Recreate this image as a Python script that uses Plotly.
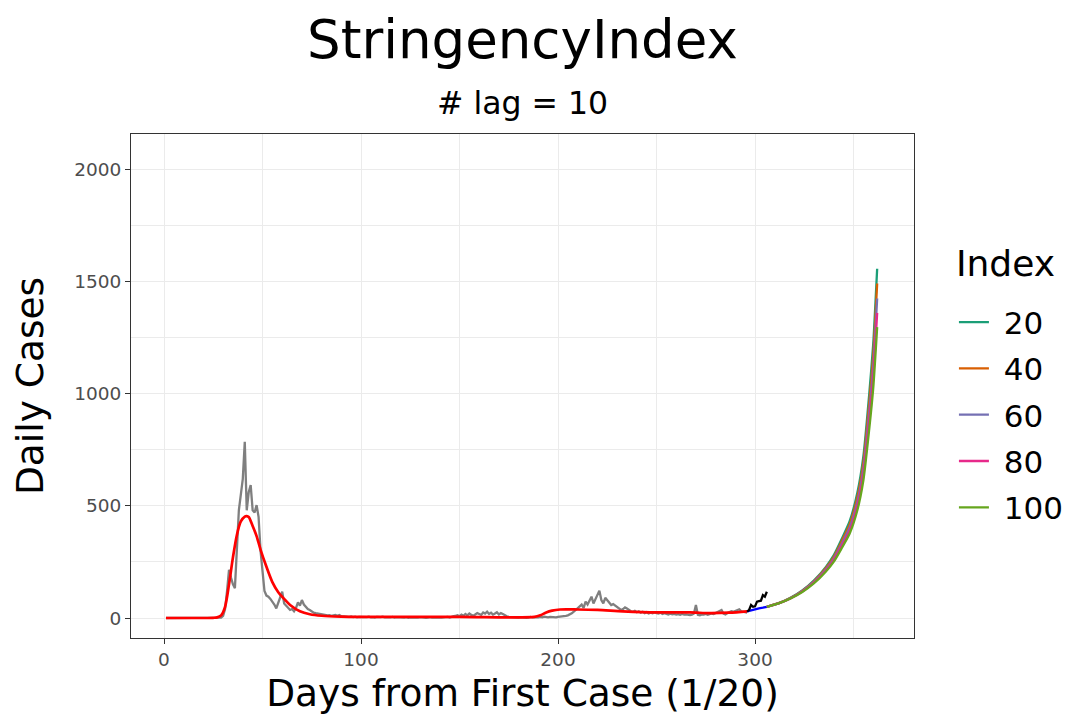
import plotly.graph_objects as go

# ---- observed daily cases (grey), day 1..296 ----
obs_days = list(range(1, 297))
obs_cases = (
    [0] * 28 + [2, 10] +
    [40, 120, 215, 180, 150, 133, 300, 480, 550, 620] +
    [785, 480, 560, 592, 480, 470, 503, 451, 300, 200] +
    [120, 100, 95, 85, 75, 60, 43, 65, 90, 117] +
    [65, 55, 45, 36, 40, 30, 45, 70, 55, 80] +
    [60, 50, 40, 36, 28, 24, 22, 20, 20, 18] +
    [15, 14, 12, 13, 10, 12, 14, 10, 13, 8] +
    [7, 9, 6, 5, 7, 4, 6, 3, 5, 4] +
    [3, 5, 4, 6, 3, 4, 2, 5, 3, 4] +
    [6, 3, 4, 2, 3, 5, 2, 4, 3, 2] +
    [3, 2, 4, 1, 3, 2, 1, 3, 2, 4] +
    [2, 3, 1, 2, 4, 2, 3, 1, 2, 3] +
    [2, 4, 3, 5, 2, 6, 8, 10, 12, 8] +
    [15, 10, 18, 12, 20, 14, 10, 16, 22, 18] +
    [14, 25, 20, 28, 18, 24, 15, 20, 26, 16] +
    [22, 18, 12, 8, 5, 4, 3, 2, 3, 2] +
    [4, 2, 3, 1, 2, 5, 3, 2, 4, 3] +
    [5, 3, 6, 4, 3, 5, 4, 6, 3, 5] +
    [6, 5, 8, 10, 12, 15, 21, 28, 35, 42] +
    [50, 60, 45, 73, 60, 80, 95, 65, 85, 100] +
    [122, 80, 65, 90, 80, 70, 58, 62, 55, 50] +
    [45, 36, 40, 47, 42, 36, 30, 28, 32, 26] +
    [30, 24, 28, 22, 26, 20, 24, 21, 25, 22] +
    [20, 24, 18, 22, 20, 16, 19, 16, 18, 15] +
    [17, 14, 18, 15, 16, 14, 13, 15, 20, 58] +
    [14, 12, 16, 15, 18, 14, 16, 20, 18, 22] +
    [25, 30, 36, 20, 16, 22, 25, 30, 28, 32] +
    [35, 39, 30, 28, 26, 24]
)

# ---- fitted curve (red) ----
fit_days = [1, 20, 25, 27, 29, 31, 33, 35, 37, 39, 41, 42, 43, 45, 47, 49, 52, 55,
            58, 61, 64, 69, 74, 80, 90, 100, 150, 188, 191, 194, 197, 201, 210,
            220, 233, 250, 267, 277, 287, 296]
fit_cases = [0, 0, 1, 3, 12, 50, 150, 270, 370, 430, 452, 454, 450, 410, 365, 305, 228, 160,
             115, 85, 58, 30, 17, 10, 6, 5, 5, 5, 12, 25, 33, 38, 38,
             36, 30, 25, 25, 22, 24, 30]

# ---- recent observed (black) and recent fit (blue) ----
recent_days = [296, 297, 298, 299, 300, 301, 302, 303, 304, 305, 306]
recent_cases = [28, 36, 58, 50, 52, 73, 75, 77, 102, 95, 117]
blue_days = [296, 298, 300, 302, 304, 306]
blue_cases = [30, 35, 39, 43, 46, 50]

# ---- projections by stringency index ----
proj_days = [306, 312, 318, 324, 330, 336, 340, 344, 348, 352, 355, 358, 360, 362]
index_labels = ["20", "40", "60", "80", "100"]
proj_20 = [50, 66, 90, 123, 168, 228, 280, 352, 430, 560, 720, 1000, 1220, 1556]
proj_40 = [50, 66, 89, 121, 165, 223, 273, 342, 416, 540, 693, 961, 1170, 1490]
proj_60 = [50, 65, 88, 120, 162, 217, 265, 331, 402, 520, 666, 921, 1120, 1423]
proj_80 = [50, 65, 87, 118, 159, 212, 258, 321, 388, 501, 639, 882, 1070, 1359]
proj_100 = [50, 65, 87, 116, 155, 207, 251, 311, 375, 482, 613, 844, 1024, 1296]
proj_series = [proj_20, proj_40, proj_60, proj_80, proj_100]
proj_colors = ["#1B9E77", "#D95F02", "#7570B3", "#E7298A", "#66A61E"]

x_ticks = [0, 100, 200, 300]
y_ticks = [0, 500, 1000, 1500, 2000]

FONT = "DejaVu Sans"

fig = go.Figure()
fig.add_trace(go.Scatter(x=obs_days, y=obs_cases, mode="lines",
                         line=dict(color="#7F7F7F", width=2.3), showlegend=False,
                         hoverinfo="skip"))
fig.add_trace(go.Scatter(x=fit_days, y=fit_cases, mode="lines",
                         line=dict(color="#FF0000", width=2.7, shape="spline", smoothing=0.8),
                         showlegend=False, hoverinfo="skip"))
fig.add_trace(go.Scatter(x=blue_days, y=blue_cases, mode="lines",
                         line=dict(color="#0000FF", width=2.3), showlegend=False,
                         hoverinfo="skip"))
fig.add_trace(go.Scatter(x=recent_days, y=recent_cases, mode="lines",
                         line=dict(color="#000000", width=2.3), showlegend=False,
                         hoverinfo="skip"))
for i, (lab, ys, col) in enumerate(zip(index_labels, proj_series, proj_colors)):
    extra = {}
    if i == 0:
        extra["legendgrouptitle"] = dict(text=".", font=dict(size=13, color="rgba(0,0,0,0)"))
    fig.add_trace(go.Scatter(x=proj_days, y=ys, mode="lines",
                             name="\u00a0" + lab,
                             legendgroup=lab,
                             line=dict(color=col, width=2.3, shape="spline", smoothing=0.6),
                             **extra))

axis_common = dict(
    showline=True, linecolor="#333333", linewidth=1, mirror=True,
    ticks="outside", ticklen=5, tickcolor="#333333", tickwidth=1,
    tickfont=dict(family=FONT, size=18.5, color="#4D4D4D"),
    showgrid=True, gridcolor="#EBEBEB", gridwidth=1.3,
    zeroline=False, automargin=False,
)

fig.update_layout(
    width=1081, height=720,
    margin=dict(l=123, r=175, t=126, b=90),
    paper_bgcolor="white", plot_bgcolor="white",
    font=dict(family=FONT, color="black"),
    xaxis=dict(range=[-16.75, 380.7], tickvals=x_ticks,
               title=dict(text="Days from First Case (1/20)",
                          font=dict(family=FONT, size=37.5, color="black"), standoff=10),
               minor=dict(dtick=50, tick0=0, showgrid=True, gridcolor="#EBEBEB",
                          gridwidth=0.7, ticks=""),
               **axis_common),
    yaxis=dict(range=[-89, 2156], tickvals=y_ticks,
               title=dict(text="Daily Cases",
                          font=dict(family=FONT, size=37.5, color="black"), standoff=19),
               minor=dict(dtick=250, tick0=0, showgrid=True, gridcolor="#EBEBEB",
                          gridwidth=0.7, ticks=""),
               **axis_common),
    legend=dict(
        title=dict(text="Index", font=dict(family=FONT, size=36, color="black")),
        font=dict(family=FONT, size=31, color="black"),
        x=1.051, xanchor="left", y=0.812, yanchor="top",
        tracegroupgap=3, bgcolor="rgba(0,0,0,0)",
    ),
    annotations=[
        dict(text="StringencyIndex", x=0.5, y=1.188, xref="paper", yref="paper",
             xanchor="center", yanchor="middle", showarrow=False,
             font=dict(family=FONT, size=53, color="black")),
        dict(text="# lag = 10", x=0.5, y=1.0615, xref="paper", yref="paper",
             xanchor="center", yanchor="middle", showarrow=False,
             font=dict(family=FONT, size=31.5, color="black")),
    ],
)

fig.write_html("out.html")
